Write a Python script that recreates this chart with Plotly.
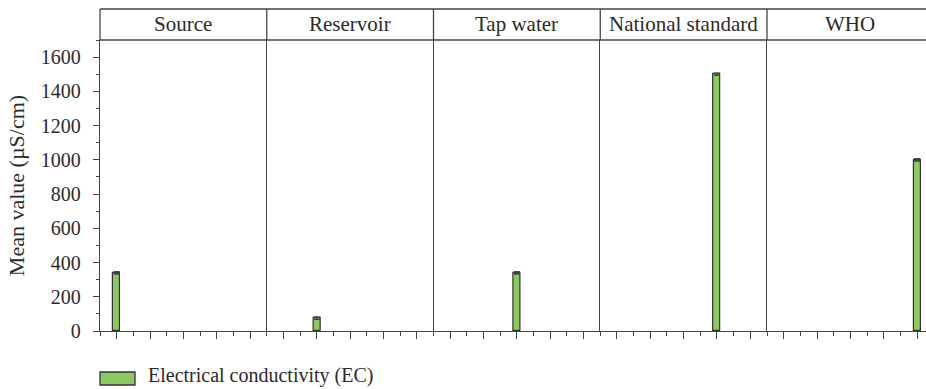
import plotly.graph_objects as go
from plotly.subplots import make_subplots

# Mean electrical conductivity per sampling group / guideline
groups = ["Source", "Reservoir", "Tap water", "National standard", "WHO"]
ec_mean = [340, 75, 340, 1500, 1000]
ec_err = [6, 6, 6, 6, 6]
series_name = "Electrical conductivity (EC)"
y_ticks = [0, 200, 400, 600, 800, 1000, 1200, 1400, 1600]

W, H = 926, 389
ML, MT, MB = 100, 40, 58
PW = W - ML
PH = H - MT - MB
panel_px = 166.75
line_col = "#444444"
text_col = "#2b2b2b"
bar_fill = "#8cc963"
font_family = "Liberation Serif"

fig = make_subplots(rows=1, cols=len(groups), shared_yaxes=True, horizontal_spacing=0)

for i, g in enumerate(groups):
    xs = list(range(len(groups)))
    ys = [None] * len(groups)
    es = [0] * len(groups)
    ys[i] = ec_mean[i]
    es[i] = ec_err[i]
    fig.add_trace(
        go.Bar(
            x=xs, y=ys, width=0.21, name=series_name, showlegend=False,
            marker=dict(color=bar_fill, line=dict(color="#333333", width=1.2)),
            error_y=dict(type="data", array=es, visible=True, color="#444444",
                         thickness=1.6, width=3),
        ),
        row=1, col=i + 1,
    )

    x0 = panel_px * i / PW
    x1 = min(panel_px * (i + 1) / PW, 1.0)
    span = (x1 - x0) * PW / panel_px * len(groups)
    ax = "xaxis" if i == 0 else f"xaxis{i + 1}"
    ay = "yaxis" if i == 0 else f"yaxis{i + 1}"
    fig.layout[ax].update(
        domain=[x0, x1], range=[-0.5, -0.5 + span], showgrid=False, zeroline=False,
        showline=True, linecolor=line_col, linewidth=1.3,
        tickmode="linear", tick0=0, dtick=1, ticks="outside", ticklen=7,
        tickwidth=1.3, tickcolor=line_col, showticklabels=False,
        minor=dict(tickmode="linear", tick0=-0.5, dtick=1, ticks="outside",
                   ticklen=3.5, tickwidth=1.3, tickcolor=line_col),
    )
    fig.layout[ay].update(
        range=[0, 1700], showgrid=False, zeroline=False,
        showline=True, linecolor=line_col, linewidth=1.3,
    )
    # strip header label, centred on the full panel width
    fig.add_annotation(
        x=(x0 + panel_px * (i + 1) / PW) / 2,
        y=1 + 15.5 / PH, xref="paper", yref="paper", text=g, showarrow=False,
        font=dict(family=font_family, size=21, color=text_col),
        xanchor="center", yanchor="middle",
    )
    # strip divider
    fig.add_shape(type="line", xref="paper", yref="paper", x0=x0, x1=x0,
                  y0=1, y1=1 + 31 / PH, line=dict(color=line_col, width=1.3))

fig.layout["yaxis"].update(
    tickmode="array", tickvals=y_ticks, ticks="outside", ticklen=6,
    tickwidth=1.3, tickcolor=line_col, ticklabelstandoff=8,
    minor=dict(tickmode="linear", tick0=0, dtick=100, ticks="outside",
               ticklen=3, tickwidth=1.3, tickcolor=line_col),
    tickfont=dict(family=font_family, size=20, color=text_col),
    title=dict(text="Mean value (µS/cm)", standoff=10,
               font=dict(family=font_family, size=22, color=text_col)),
)

# strip top and bottom rules
for yy in (1, 1 + 31 / PH):
    fig.add_shape(type="line", xref="paper", yref="paper", x0=0, x1=1,
                  y0=yy, y1=yy, line=dict(color=line_col, width=1.3))

# legend key
fig.add_shape(type="rect", xref="paper", yref="paper",
              x0=0, x1=35 / PW, y0=-(372 - (MT + PH)) / PH, y1=-(385 - (MT + PH)) / PH,
              fillcolor=bar_fill, line=dict(color="#333333", width=1.3))
fig.add_annotation(x=47 / PW, y=-(376 - (MT + PH)) / PH, xref="paper", yref="paper",
                   text=series_name, showarrow=False, xanchor="left", yanchor="middle",
                   borderpad=0,
                   font=dict(family=font_family, size=20, color=text_col))

fig.update_layout(
    width=W, height=H, margin=dict(l=ML, r=0, t=MT, b=MB),
    plot_bgcolor="white", paper_bgcolor="white", bargap=0, showlegend=False,
    font=dict(family=font_family),
)

fig.write_html("out.html")
